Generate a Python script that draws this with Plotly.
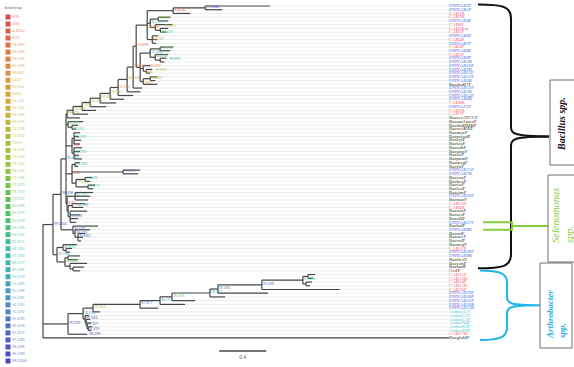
import plotly.graph_objects as go
from plotly.colors import sample_colorscale

# ---------------------------------------------------------------------------
# Tree data (Newick pieces, branch lengths in substitutions/site,
# internal node names are SH-aLRT / UFBoot supports)
# ---------------------------------------------------------------------------
crown_clade = (
    "((((DNNAB2F:0.553,DNNAB1F:0.145)99.5/100:0.272,CAB1R:0.145)4.4/100:0.221,"
    "((CAB2R:0.102,DNNAB4F:0.085)73.4/78:0.068,(CAB6F:0.145,(CAB5Rm:0.068,CAB1F:0.051)82.6/73:0.043)71.6/72:0.043)85.3/71:0.026,"
    "(DNNAB6F:0.051,CAB4R:0.043,DNNAB7F:0.034)64.2/47:0.043)36.6/65:0.094,"
    "(((CAB3F:0.111,DNNAB8F:0.085)77.9/75:0.085,(CAB2F:0.111,(DNNAB9F:0.051,DNNAB3R:0.034)89.6/81:0.043)80.4/68:0.043)91.3/85:0.085,"
    "(DNNAB10F:0.060,(DNNAB2R:0.051,DNNAB11F:0.034)69.4/76:0.026)62/66:0.026,"
    "((DNNAB12F:0.060,DNNAB5R:0.043)75.2/62:0.060,BacthuB7F:0.119)54/47:0.026)26.5/59:0.034)13.4/69"
)

# grade below the crown: (side leaf, leaf length, support of new node, length of inner branch)
bacillus_grade = [
    ("DNNAB13F", 0.077, "23.6/69", 0.026),
    ("DNNAB1R", 0.111, "31.5/59", 0.051),
    ("DNNAB14F", 0.128, "55.9/51", 0.077),
    ("DNNAB6R", 0.119, "65.5/67", 0.068),
    ("CAB8R", 0.136, "68.3/64", 0.085),
    ("DNNAF1F", 0.136, "70.2/58", 0.085),
    ("CAB9R", 0.119, "73/56", 0.068),
    ("CAB7F", 0.128, "74.5/64", 0.077),
    ("BaccerATCCF", 0.111, "76.2/50", 0.051),
]
grade_stem = 0.009

clade_s31 = "(BacantAmesF:0.128,(BacthuBMBF:0.051,BacweiKBF:0.034)79.5/52:0.034)81.2/75:0.017"
clade_s34 = ("((BacmycF:0.051,BacpseudF:0.043,BaccytF:0.060,BactoyF:0.051)83.5/79:0.017,"
             "(BacsubF:0.068,BacamyF:0.051,BaclicF:0.043,BacpumF:0.068)84.1/70:0.017)0/51:0.051")
clade_s42 = ("((BacmegF:0.043,BacfirF:0.026)86.7/80:0.026,(DNNAB15F:0.145,DNNAB7R:0.128)97.3/77:0.434,"
             "((BaccoaF:0.060,BacbenF:0.043)87.5/83:0.077,(BaccirF:0.060,BaclenF:0.043)88.2/77:0.102)77.1/66:0.034)0/84:0.051")
clade_s50 = ("((BacsimF:0.153,DNNAB16F:0.128,BacmarF:0.111)90.1/74:0.068,"
             "((CAB10F:0.111,CAB6R:0.094)92.7/88:0.034,(BacsonF:0.145,BacaerF:0.085,BacalkF:0.068,DNNAB17F:0.051)93.4/86:0.017):0.009)6/73:0.009")
clade_bsd = "(BachalF:0.213,(DNNAB8R:0.128,(BacnitF:0.060,BacoceF:0.043,BacvalF:0.026)95.8/89:0.026)96.6/93:0.017)97.5/83:0.102"
clade_bsb = ("((BacmojF:0.119,(CAB11F:0.051,DNNAB18F:0.034):0.026)85.3/71:0.051,"
             "((DNNAB9R:0.102,BacflexF:0.085):0.026,(BaccohF:0.145,(BacbadF:0.094,CerIF:0.060):0.026):0.043)80.4/68:0.068)92.7/88:0.034")

arthro_top = "((CAB12F:0.060,CAB13R:0.043):0.043,(CAB14F:0.051,CAB15R:0.034):0.026)87.5/83"
arthro_grade = [
    ("CAB16F", 0.664, "95.8/89", 0.349),
    ("DNNAB19F", 0.426, "93.4/86", 0.374),
    ("DNNAB20F", 0.128, "88.2/77", 0.068),
    ("DNNAB21F", 0.196, "78.7/63", 0.323),
    ("DNNAB10R", 0.213, "90.1/74", 0.102),
    ("DNNAB11R", 0.153, "97.3/77", 0.170),
    ("ArthroA1F", 0.060, "76.2/50", 0.400),
]
arthro_base = "(ArthroG2F:0.034,(ArthroC3F:0.034,(ArthroN4F:0.034,(ArthroS5F:0.034,ArthroT6F:0.026)99.2/99:0.009)96.6/93:0.009)97.3/77:0.009)97.5/83"

outgroup = ("BacglobIF", 3.455)


def build_grade(top, steps):
    s = top
    for leaf, leaf_len, support, inner_len in steps:
        s = "(" + s + ":" + str(inner_len) + "," + leaf + ":" + str(leaf_len) + ")" + support
    return s


bac_grade = build_grade(crown_clade, bacillus_grade)
bsc = "(" + bac_grade + ":" + str(grade_stem) + "," + clade_s31 + "," + clade_s34 + "," + clade_s42 + "," + clade_s50 + ")95.0/92:0.043"
bsa = "(" + bsc + "," + clade_bsd + ")98.4/96:0.068"
bs = "(" + bsa + "," + clade_bsb + ")99.5/100:0.085"
ar2 = build_grade(arthro_top, arthro_grade)
ar1 = "(" + ar2 + ":0.085," + arthro_base + ":0.017)94.1/90"
ar = "(" + ar1 + ":0.128,CAB17R:0.162)99.2/99:0.213"
newick = "(" + bs + "," + ar + "," + outgroup[0] + ":" + str(outgroup[1]) + ");"

clades = [
    ("Bacillus spp.", "DNNAB2F", "CerIF"),
    ("Selenomonas spp.", "DNNAB17F", "DNNAB8R"),
    ("Arthrobacter spp.", "CAB12F", "BacglobIF"),
]
scale_value = 0.4


# ---------------------------------------------------------------------------
def parse_newick(s):
    s = s.strip().rstrip(";")
    pos = 0

    def node():
        nonlocal pos
        children = []
        if s[pos] == "(":
            pos += 1
            while True:
                children.append(node())
                if s[pos] == ",":
                    pos += 1
                    continue
                if s[pos] == ")":
                    pos += 1
                    break
        start = pos
        while pos < len(s) and s[pos] not in ",():":
            pos += 1
        name = s[start:pos]
        length = 0.0
        if pos < len(s) and s[pos] == ":":
            pos += 1
            start = pos
            while pos < len(s) and s[pos] not in ",()":
                pos += 1
            length = float(s[start:pos])
        return {"name": name, "len": length, "children": children}

    return node()


root = parse_newick(newick)
leaves, internals = [], []


def place(n, x0):
    n["x"] = x0 + n["len"]
    if not n["children"]:
        n["y"] = len(leaves)
        leaves.append(n)
    else:
        for c in n["children"]:
            place(c, n["x"])
        n["y"] = (n["children"][0]["y"] + n["children"][-1]["y"]) / 2
        internals.append(n)


place(root, 0.0)
row_of = {lf["name"]: lf["y"] for lf in leaves}

# axis geometry: 1 unit of branch length and one leaf row in screen space
W, H = 574, 367
X0_PX, PX_PER_UNIT = 43.0, 117.5
Y0_PX, PX_PER_ROW = 6.0, 3.73
LABEL_X = (449 - X0_PX) / PX_PER_UNIT


def row_px(r):
    return Y0_PX + PX_PER_ROW * r


def x_px(u):
    return X0_PX + PX_PER_UNIT * u


# tree edges
ex, ey = [], []


def edges(n):
    for c in n["children"]:
        ex.extend([n["x"], c["x"], None])
        ey.extend([c["y"], c["y"], None])
        edges(c)
    if n["children"]:
        ex.extend([n["x"], n["x"], None])
        ey.extend([n["children"][0]["y"], n["children"][-1]["y"], None])


edges(root)

# leader lines from tips to the aligned labels
lx, ly = [], []
for lf in leaves:
    if lf["x"] < LABEL_X - 1e-6:
        lx.extend([lf["x"], LABEL_X, None])
        ly.extend([lf["y"], lf["y"], None])


def leaf_colour(name):
    if name.startswith("DNNAB") or name.startswith("DNNAF"):
        return "#5b5be8"
    if name.startswith("CAB"):
        return "#ea5f5a"
    if name.startswith("Arthro"):
        return "#3fc6dc"
    return "#2b2b2b"


# support values -> colour ramp (legend order)
def support_key(s):
    return tuple(float(p) for p in s.split("/"))


supports = sorted({n["name"] for n in internals if n["name"]}, key=support_key)
ramp = [[0.0, "#d44d52"], [0.14, "#df8a42"], [0.28, "#c4b33c"], [0.42, "#9cc43c"],
        [0.56, "#4fc25e"], [0.7, "#3cbfae"], [0.82, "#4a93c4"], [1.0, "#4b45be"]]
sup_colours = sample_colorscale(ramp, [i / (len(supports) - 1) for i in range(len(supports))])
sup_colour = dict(zip(supports, sup_colours))

# support label placement: start just right of each node, nudge vertically on collisions
SUP_SIZE = 3.3
placed = []
sup_x, sup_y, sup_t, sup_c = [], [], [], []
for n in sorted((n for n in internals if n["name"]), key=lambda n: (n["y"], n["x"])):
    w = len(n["name"]) * SUP_SIZE * 0.55
    h = SUP_SIZE + 0.4
    bx0, by0 = x_px(n["x"]) + 1.2, row_px(n["y"]) - 0.8
    for dy in [0, -2.4, 2.4, -4.2, 4.2, -6, 6, -8, 8]:
        for dx in [0, 4, 8]:
            cx, cy = bx0 + dx, by0 + dy
            if all(cx + w <= px0 or cx >= px0 + pw or cy + h / 2 <= py0 - ph / 2 or cy - h / 2 >= py0 + ph / 2
                   for px0, py0, pw, ph in placed):
                break
        else:
            continue
        break
    placed.append((cx, cy, w, h))
    sup_x.append(cx)
    sup_y.append(cy)
    sup_t.append(n["name"])
    sup_c.append(sup_colour[n["name"]])

fig = go.Figure()
fig.add_trace(go.Scatter(x=lx, y=ly, mode="lines", line=dict(color="#e4e4e4", width=0.7),
                         hoverinfo="skip", showlegend=False))
fig.add_trace(go.Scatter(x=ex, y=ey, mode="lines", line=dict(color="#454545", width=1.2),
                         hoverinfo="skip", showlegend=False))

# node supports (pixel overlay axes)
fig.add_trace(go.Scatter(
    x=sup_x, y=sup_y, mode="text", text=sup_t, textposition="middle right",
    textfont=dict(size=SUP_SIZE, family="Arial", color=sup_c),
    xaxis="x2", yaxis="y2", hoverinfo="skip", showlegend=False))

# tip labels
fig.add_trace(go.Scatter(
    x=[LABEL_X] * len(leaves), y=[lf["y"] for lf in leaves], mode="text",
    text=[lf["name"] for lf in leaves], textposition="middle right",
    textfont=dict(size=4.9, family="Liberation Serif", color=[leaf_colour(lf["name"]) for lf in leaves]),
    hoverinfo="skip", showlegend=False))

# scale bar
sb_row = (351 - Y0_PX) / PX_PER_ROW
sb_x0 = 1.5
fig.add_trace(go.Scatter(x=[sb_x0, sb_x0 + scale_value], y=[sb_row, sb_row], mode="lines",
                         line=dict(color="#444", width=1.3), hoverinfo="skip", showlegend=False))
fig.add_trace(go.Scatter(x=[sb_x0 + scale_value / 2], y=[sb_row + 1.9], mode="text", text=[str(scale_value)],
                         textfont=dict(size=5, family="Arial", color="#555"), hoverinfo="skip", showlegend=False))

# bootstrap colour key (pixel overlay axes)
key_y = [17 + 7.02 * i for i in range(len(supports))]
fig.add_trace(go.Scatter(x=[8] * len(supports), y=key_y, mode="markers",
                         marker=dict(symbol="square", size=5, color=sup_colours, line=dict(width=0)),
                         xaxis="x2", yaxis="y2", hoverinfo="skip", showlegend=False))
fig.add_trace(go.Scatter(x=[12] * len(supports), y=key_y, mode="text", text=supports,
                         textposition="middle right",
                         textfont=dict(size=3.8, family="Arial", color=sup_colours),
                         xaxis="x2", yaxis="y2", hoverinfo="skip", showlegend=False, opacity=0.75))
fig.add_trace(go.Scatter(x=[5], y=[8], mode="text", text=["bootstrap"], textposition="middle right",
                         textfont=dict(size=4, family="Arial", color="#666"),
                         xaxis="x2", yaxis="y2", hoverinfo="skip", showlegend=False))

# clade braces and boxes
shapes = []
annots = []
b_top = row_px(row_of[clades[0][1]]) - 1.5
b_bot = row_px(row_of[clades[0][2]]) - 2.5
b_mid = (b_top + b_bot) / 2
bx = 511
shapes.append(dict(type="path", xref="x2", yref="y2", line=dict(color="#111", width=2),
                   path=f"M478,{b_top} C503,{b_top} {bx},{b_top+2} {bx},{b_top+14} L{bx},{b_mid-10} "
                        f"C{bx},{b_mid-3} {bx+2},{b_mid} 549,{b_mid}"))
shapes.append(dict(type="path", xref="x2", yref="y2", line=dict(color="#111", width=2),
                   path=f"M549,{b_mid} C{bx+2},{b_mid} {bx},{b_mid+3} {bx},{b_mid+10} L{bx},{b_bot-14} "
                        f"C{bx},{b_bot-2} 503,{b_bot} 478,{b_bot}"))

s_a = row_px(row_of[clades[1][1]])
s_b = row_px(row_of[clades[1][2]])
s_mid = (s_a + s_b) / 2
shapes.append(dict(type="path", xref="x2", yref="y2", line=dict(color="#84cc3c", width=2),
                   path=f"M483,{s_a} L512,{s_a} L512,{s_b} L483,{s_b} M512,{s_mid} L548,{s_mid}"))

a_top = row_px(row_of[clades[2][1]]) - 4
a_bot = row_px(row_of[clades[2][2]]) + 2
a_mid = (a_top + a_bot) / 2
ax_ = 507
shapes.append(dict(type="path", xref="x2", yref="y2", line=dict(color="#1fb3e8", width=2),
                   path=f"M480,{a_top} C500,{a_top} {ax_},{a_top+3} {ax_},{a_top+12} L{ax_},{a_mid-8} "
                        f"C{ax_},{a_mid-2} {ax_+3},{a_mid} 540,{a_mid} "
                        f"M540,{a_mid} C{ax_+3},{a_mid} {ax_},{a_mid+2} {ax_},{a_mid+8} L{ax_},{a_bot-12} "
                        f"C{ax_},{a_bot-3} 500,{a_bot} 480,{a_bot}"))

for x0, y0, x1, y1 in [(550, 80, 578, 165), (548, 175, 578, 262), (540, 263, 572, 348)]:
    shapes.append(dict(type="rect", xref="x2", yref="y2", x0=x0, y0=y0, x1=x1, y1=y1,
                       line=dict(color="#6e6e6e", width=1)))

annots.append(dict(x=561, y=124, xref="x2", yref="y2", showarrow=False, textangle=-90,
                   text="<b><i>Bacillus spp.</i></b>",
                   font=dict(family="Liberation Serif", size=10, color="#111")))
annots.append(dict(x=562, y=216, xref="x2", yref="y2", showarrow=False, textangle=-90, align="left",
                   text="<i>Selenomonas</i><br><i>spp.</i>",
                   font=dict(family="Liberation Serif", size=10.5, color="#86c93c")))
annots.append(dict(x=556, y=314, xref="x2", yref="y2", showarrow=False, textangle=-90, align="left",
                   text="<b><i>Arthrobacter</i></b><br><b><i>spp.</i></b>",
                   font=dict(family="Liberation Serif", size=9, color="#22aee6")))

fig.update_layout(
    width=W, height=H, margin=dict(l=0, r=0, t=0, b=0),
    paper_bgcolor="white", plot_bgcolor="white",
    xaxis=dict(range=[-X0_PX / PX_PER_UNIT, (W - X0_PX) / PX_PER_UNIT], visible=False, fixedrange=True),
    yaxis=dict(range=[(H - Y0_PX) / PX_PER_ROW, -Y0_PX / PX_PER_ROW], visible=False, fixedrange=True),
    xaxis2=dict(range=[0, W], overlaying="x", visible=False, anchor="y2", fixedrange=True),
    yaxis2=dict(range=[H, 0], overlaying="y", visible=False, anchor="x2", fixedrange=True),
    shapes=shapes, annotations=annots, showlegend=False,
)

fig.write_html("out.html")
